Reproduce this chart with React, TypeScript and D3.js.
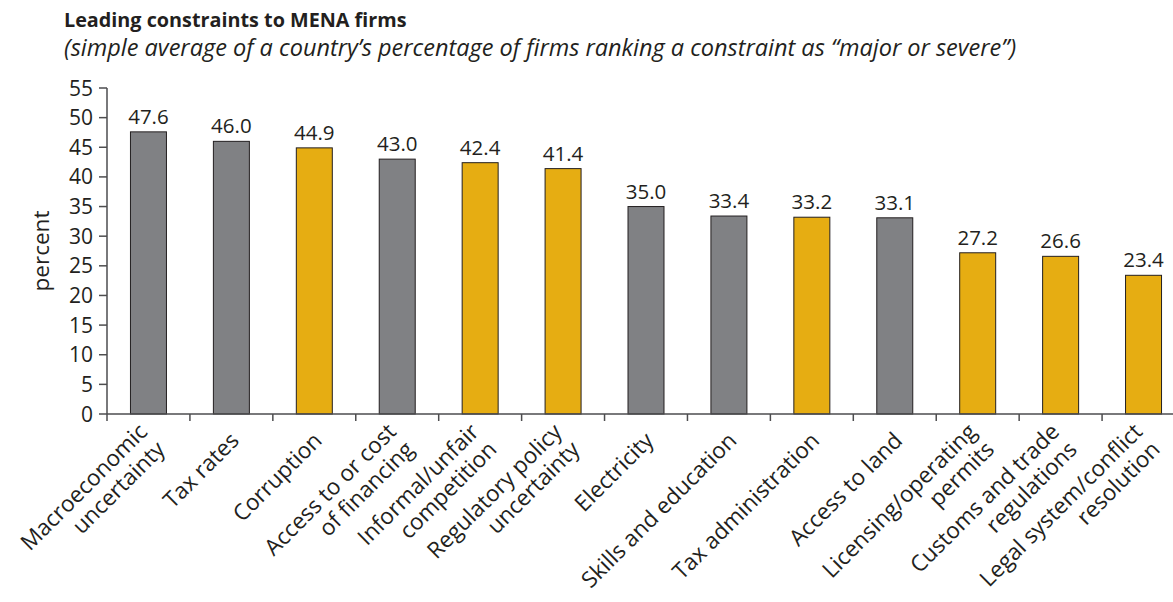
import React from "react";
import * as d3 from "d3";

const categories: string[][] = [
  ["Macroeconomic", "uncertainty"],
  ["Tax rates"],
  ["Corruption"],
  ["Access to or cost", "of financing"],
  ["Informal/unfair", "competition"],
  ["Regulatory policy", "uncertainty"],
  ["Electricity"],
  ["Skills and education"],
  ["Tax administration"],
  ["Access to land"],
  ["Licensing/operating", "permits"],
  ["Customs and trade", "regulations"],
  ["Legal system/conflict", "resolution"],
];
const values: number[] = [47.6, 46.0, 44.9, 43.0, 42.4, 41.4, 35.0, 33.4, 33.2, 33.1, 27.2, 26.6, 23.4];
const groups: string[] = ["a", "a", "b", "a", "b", "b", "a", "a", "b", "a", "b", "b", "b"];
const yTicks: number[] = [0, 5, 10, 15, 20, 25, 30, 35, 40, 45, 50, 55];

const title = "Leading constraints to MENA firms";
const subtitle = "(simple average of a country\u2019s percentage of firms ranking a constraint as \u201cmajor or severe\u201d)";

const FONT = "'Open Sans', 'Noto Sans', sans-serif";

export default function App() {
  const W = 1173, H = 602;
  const x0 = 107, x1 = 1185, yTop = 88, yBot = 414;
  const keys = categories.map((_, i) => String(i));
  const x = d3.scaleBand<string>().domain(keys).range([x0, x1]).paddingInner(0.566).paddingOuter(0.283);
  const y = d3.scaleLinear().domain([0, 55]).range([yBot, yTop]);
  const color = d3.scaleOrdinal<string, string>().domain(["a", "b"]).range(["#808184", "#E6AD12"]);
  const step = x.step();
  const lh = 25;
  const axisColor = "#4d4d4f";

  return (
    <svg width={W} height={H} style={{ position: "absolute", left: 0, top: 0, background: "#fff" }} fontFamily={FONT}>
      <text x={64} y={27} fontSize={19.8} fontWeight={700} fill="#231F20">{title}</text>
      <text x={64} y={56} fontSize={23.5} fontStyle="italic" fill="#231F20">{subtitle}</text>

      <text transform={`translate(49,${(yTop + yBot) / 2}) rotate(-90)`} textAnchor="middle" fontSize={22.5} fill="#231F20">percent</text>

      {/* y axis */}
      <line x1={x0} x2={x0} y1={yTop} y2={yBot} stroke={axisColor} strokeWidth={1.5} />
      {yTicks.map((t) => (
        <g key={t}>
          <line x1={x0 - 8} x2={x0} y1={y(t)} y2={y(t)} stroke={axisColor} strokeWidth={1.5} />
          <text x={93} y={y(t)} dy="0.36em" textAnchor="end" fontSize={21} fill="#231F20">{t}</text>
        </g>
      ))}

      {/* bars */}
      {values.map((v, i) => (
        <g key={i}>
          <rect x={x(String(i))} y={y(v)} width={x.bandwidth()} height={y(0) - y(v)}
            fill={color(groups[i])} stroke="#231F20" strokeWidth={1} />
          <text x={(x(String(i)) as number) + x.bandwidth() / 2} y={y(v) - 8} textAnchor="middle" fontSize={20.5} fill="#231F20">
            {v.toFixed(1)}
          </text>
        </g>
      ))}

      {/* x axis */}
      <line x1={x0} x2={W} y1={yBot} y2={yBot} stroke={axisColor} strokeWidth={1.5} />
      {keys.map((k) => (
        <line key={k} x1={x(k) as number - step * 0.283} x2={x(k) as number - step * 0.283} y1={yBot} y2={yBot + 7} stroke={axisColor} strokeWidth={1.5} />
      ))}

      {categories.map((lines, i) => {
        const cx = (x(String(i)) as number) + x.bandwidth() / 2;
        return (
          <g key={i} transform={`translate(${cx + 9},${yBot + 28}) rotate(-45)`}>
            <text textAnchor="end" fontSize={22.5} fill="#231F20">
              {lines.map((ln, j) => (
                <tspan key={j} x={0} y={(j - (lines.length - 1) / 2) * lh}>{ln}</tspan>
              ))}
            </text>
          </g>
        );
      })}
    </svg>
  );
}
